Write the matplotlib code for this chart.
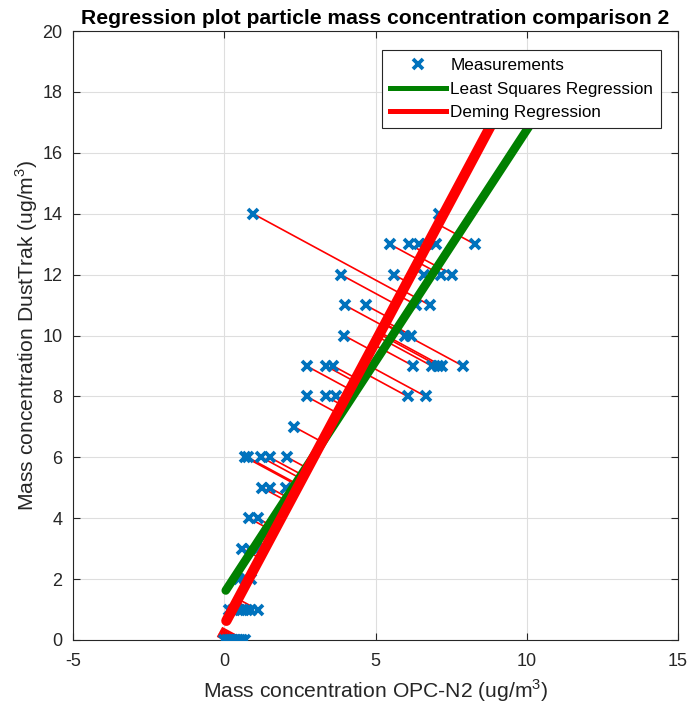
import numpy as np
import matplotlib
matplotlib.use("Agg")
import matplotlib.pyplot as plt
from matplotlib.lines import Line2D

plt.rcParams['font.family'] = ['Liberation Sans', 'DejaVu Sans']
plt.rcParams['mathtext.fontset'] = 'custom'
plt.rcParams['mathtext.rm'] = 'Liberation Sans'
plt.rcParams['axes.unicode_minus'] = False

# Measurements: OPC-N2 (x) vs DustTrak (y), ug/m3
opc_x = [0.0, 0.08, 0.15, 0.22, 0.3, 0.38, 0.45, 0.52, 0.6, 0.68,
         0.15, 0.3, 0.45, 0.6, 0.75, 0.9, 1.1,
         0.5, 0.7, 0.9,
         0.6, 0.85, 1.12,
         0.82, 1.1,
         1.25, 1.5, 2.05,
         0.7, 0.78, 1.23, 1.5, 2.08,
         2.31,
         2.72, 3.36, 3.69, 6.06, 6.66,
         2.72, 3.36, 3.6, 6.25, 6.86, 7.08, 7.2, 7.89,
         3.96, 5.97, 6.19,
         3.98, 4.67, 6.35, 6.79,
         3.85, 5.6, 6.6, 7.16, 7.53,
         5.47, 6.1, 6.45, 6.7, 7.0, 8.28,
         0.95, 7.1]
dusttrak_y = [0, 0, 0, 0, 0, 0, 0, 0, 0, 0,
              1, 1, 1, 1, 1, 1, 1,
              2, 2, 2,
              3, 3, 3,
              4, 4,
              5, 5, 5,
              6, 6, 6, 6, 6,
              7,
              8, 8, 8, 8, 8,
              9, 9, 9, 9, 9, 9, 9, 9,
              10, 10, 10,
              11, 11, 11, 11,
              12, 12, 12, 12, 12,
              13, 13, 13, 13, 13, 13,
              14, 14]

# Fitted regression coefficients (intercept, slope) and plotted x-range
ls_intercept, ls_slope = 1.55, 1.52
deming_intercept, deming_slope = 0.50, 1.86
ls_x_range = [0.05, 10.3]
deming_x_range = [0.07, 9.5]

x = np.array(opc_x, dtype=float)
y = np.array(dusttrak_y, dtype=float)

fig = plt.figure(figsize=(6.92, 7.09), dpi=100)
ax = fig.add_axes([73/692, 1-640/709, 605/692, 609/709])

blue = (0, 0.447, 0.741)
dark = (0.15, 0.15, 0.15)

# orthogonal projections onto Deming line
a, b = deming_intercept, deming_slope
xf = (x + b*(y - a)) / (1 + b*b)
yf = a + b*xf
for xi, yi, xfi, yfi in zip(x, y, xf, yf):
    ax.plot([xi, xfi], [yi, yfi], color='red', lw=1.2, zorder=2)

ax.plot(x, y, linestyle='none', marker='x', color=blue, ms=6.8, mew=2.7, zorder=3)

gx = np.array(ls_x_range)
ax.plot(gx, ls_intercept + ls_slope*gx, color=(0, 0.5, 0), lw=6.2,
        solid_capstyle='round', zorder=4)
rx = np.array(deming_x_range)
ax.plot(rx, deming_intercept + deming_slope*rx, color='red', lw=7.4,
        solid_capstyle='round', zorder=5)

ax.set_xlim(-5, 15)
ax.set_ylim(0, 20)
ax.set_xticks([-5, 0, 5, 10, 15])
ax.set_yticks(np.arange(0, 21, 2))
ax.grid(True, color=(0.87, 0.87, 0.87), lw=0.8)
ax.set_axisbelow(True)
ax.tick_params(direction='in', top=True, right=True, labelsize=13,
               colors=dark, length=5, width=0.8)
ax.tick_params(axis='x', pad=9)
ax.tick_params(axis='y', pad=7.5)
for s in ax.spines.values():
    s.set_color(dark)
    s.set_linewidth(0.8)

ax.set_xlabel('Mass concentration OPC-N2 (ug/m$^3$)', fontsize=15.2,
              color=dark, labelpad=6)
ax.set_ylabel('Mass concentration DustTrak (ug/m$^3$)', fontsize=15.2,
              color=dark, labelpad=1.5)
ax.set_title('Regression plot particle mass concentration comparison 2',
             fontsize=15.2, fontweight='bold', pad=5)

handles = [
    Line2D([], [], linestyle='none', marker='x', color=blue, ms=6.5, mew=2.7),
    Line2D([], [], color=(0, 0.5, 0), lw=3.6),
    Line2D([], [], color='red', lw=3.6),
]
leg = ax.legend(handles, ['Measurements', 'Least Squares Regression', 'Deming Regression'],
                loc='upper right', bbox_to_anchor=(0.9714, 0.9688), borderaxespad=0,
                fontsize=12.3, fancybox=False, framealpha=1, edgecolor=dark,
                handlelength=3.3, handletextpad=0.22, labelspacing=0.52,
                borderpad=0.45)
leg.get_frame().set_linewidth(0.8)
leg.set_zorder(10)

fig.savefig('out.png', dpi=100)
